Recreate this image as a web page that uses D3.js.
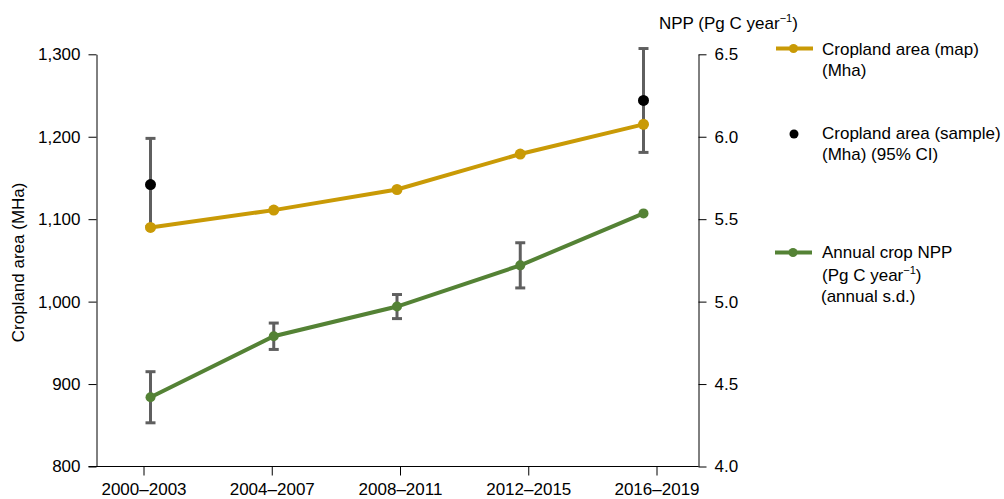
<!DOCTYPE html>
<html>
<head>
<meta charset="utf-8">
<script src="https://cdn.jsdelivr.net/npm/d3@7"></script>
<style>
  html, body { margin: 0; padding: 0; background: #fff; }
  svg { display: block; font-family: "Liberation Sans", Arial, Helvetica, sans-serif; }
  text { fill: #000; }
</style>
</head>
<body>
<svg id="chart" width="1004" height="499"></svg>
<script>
// ---- data ----
const periods = ["2000–2003", "2004–2007", "2008–2011", "2012–2015", "2016–2019"];
const mapArea = [1090, 1111, 1136, 1179, 1215];               // Mha
const samplePeriods = ["2000–2003", "2016–2019"];
const sampleArea = [1142, 1244];                              // Mha
const sampleLow = [1091, 1181];                               // 95% CI lower
const sampleHigh = [1198, 1307];                              // 95% CI upper
const npp = [4.42, 4.79, 4.97, 5.22, 5.535];                  // Pg C / year
const nppSD = [0.155, 0.08, 0.073, 0.137, null];              // annual s.d.
const leftTicks = [800, 900, 1000, 1100, 1200, 1300];
const rightTicks = [4.0, 4.5, 5.0, 5.5, 6.0, 6.5];

const gold = "#c99a06";
const green = "#548235";
const errGray = "#5f5f5f";

const svg = d3.select("#chart");
const fontSize = 17;

// ---- scales ----
const plotTop = 54.3, plotBottom = 466.5, leftX = 96.5, rightX = 698.5;
const xTick = d3.scalePoint().domain(periods).range([143.5, 656.5]);
const xData = d3.scalePoint().domain(periods).range([150.5, 643.5]);
const yL = d3.scaleLinear().domain([800, 1300]).range([plotBottom, plotTop]);
const yR = d3.scaleLinear().domain([4.0, 6.5]).range([plotBottom, plotTop]);

// ---- axes ----
const gL = svg.append("g").attr("transform", `translate(${leftX},0)`)
  .call(d3.axisLeft(yL).tickValues(leftTicks).tickSize(8).tickSizeOuter(0).tickPadding(8)
    .tickFormat(d3.format(",")));
const gR = svg.append("g").attr("transform", `translate(${rightX},0)`)
  .call(d3.axisRight(yR).tickValues(rightTicks).tickSize(8).tickSizeOuter(0).tickPadding(8)
    .tickFormat(d3.format(".1f")));
const gB = svg.append("g").attr("transform", `translate(0,${plotBottom})`)
  .call(d3.axisBottom(xTick).tickSize(9).tickSizeOuter(0).tickPadding(7));
gB.select(".domain").remove();
gB.append("line").attr("x1", 88.5).attr("x2", rightX).attr("y1", 0).attr("y2", 0)
  .attr("stroke", "#000").attr("stroke-width", 1);

[gL, gR, gB].forEach(g => {
  g.selectAll("text").attr("font-size", fontSize).attr("font-family", "Liberation Sans, Arial, sans-serif").attr("fill", "#000");
  g.selectAll("line, path").attr("stroke", "#000").attr("stroke-width", 1);
});
gB.selectAll(".tick text").attr("dy", "0.71em");

// left axis title
svg.append("text")
  .attr("transform", `translate(24,${(plotTop + plotBottom) / 2 + 2}) rotate(-90)`)
  .attr("text-anchor", "middle").attr("font-size", fontSize)
  .text("Cropland area (MHa)");

// right axis title
const rt = svg.append("text").attr("x", 659).attr("y", 29).attr("font-size", fontSize);
rt.append("tspan").text("NPP (Pg C year");
rt.append("tspan").attr("font-size", 11).attr("dy", -7).text("−1");
rt.append("tspan").attr("dy", 7).text(")");

// ---- error bars ----
const capW = 5;
function errBar(x, y1, y2) {
  const g = svg.append("g").attr("stroke", errGray).attr("stroke-width", 3).attr("fill", "none");
  g.append("line").attr("x1", x).attr("x2", x).attr("y1", y1).attr("y2", y2);
  g.append("line").attr("x1", x - capW).attr("x2", x + capW).attr("y1", y1).attr("y2", y1);
  g.append("line").attr("x1", x - capW).attr("x2", x + capW).attr("y1", y2).attr("y2", y2);
}
samplePeriods.forEach((p, i) => {
  errBar(xData(p), yL(sampleHigh[i]), yL(sampleLow[i]));
});
periods.forEach((p, i) => {
  if (nppSD[i] != null) errBar(xData(p), yR(npp[i] + nppSD[i]), yR(npp[i] - nppSD[i]));
});

// ---- lines ----
const lineMap = d3.line().x((d, i) => xData(periods[i])).y(d => yL(d));
const lineNpp = d3.line().x((d, i) => xData(periods[i])).y(d => yR(d));

svg.append("path").datum(mapArea).attr("d", lineMap)
  .attr("fill", "none").attr("stroke", gold).attr("stroke-width", 4);
svg.append("g").selectAll("circle").data(mapArea).join("circle")
  .attr("cx", (d, i) => xData(periods[i])).attr("cy", d => yL(d)).attr("r", 5.5).attr("fill", gold);

svg.append("path").datum(npp).attr("d", lineNpp)
  .attr("fill", "none").attr("stroke", green).attr("stroke-width", 4);
svg.append("g").selectAll("circle").data(npp).join("circle")
  .attr("cx", (d, i) => xData(periods[i])).attr("cy", d => yR(d)).attr("r", 5).attr("fill", green);

svg.append("g").selectAll("circle").data(sampleArea).join("circle")
  .attr("cx", (d, i) => xData(samplePeriods[i])).attr("cy", d => yL(d)).attr("r", 5.5).attr("fill", "#000");

// ---- legend ----
const lg = svg.append("g");
// map
lg.append("line").attr("x1", 776).attr("x2", 813).attr("y1", 48.5).attr("y2", 48.5)
  .attr("stroke", gold).attr("stroke-width", 4);
lg.append("circle").attr("cx", 793.5).attr("cy", 48.5).attr("r", 4.5).attr("fill", gold);
lg.append("text").attr("x", 822).attr("y", 55).attr("font-size", fontSize).text("Cropland area (map)");
lg.append("text").attr("x", 822).attr("y", 76).attr("font-size", fontSize).text("(Mha)");
// sample
lg.append("circle").attr("cx", 794).attr("cy", 134).attr("r", 4.5).attr("fill", "#000");
lg.append("text").attr("x", 822).attr("y", 139).attr("font-size", fontSize).text("Cropland area (sample)");
lg.append("text").attr("x", 822).attr("y", 160).attr("font-size", fontSize).text("(Mha) (95% CI)");
// npp
lg.append("line").attr("x1", 775).attr("x2", 812).attr("y1", 252.5).attr("y2", 252.5)
  .attr("stroke", green).attr("stroke-width", 4);
lg.append("circle").attr("cx", 793).attr("cy", 252.5).attr("r", 4.5).attr("fill", green);
lg.append("text").attr("x", 822).attr("y", 258).attr("font-size", fontSize).text("Annual crop NPP");
const l2 = lg.append("text").attr("x", 822).attr("y", 281).attr("font-size", fontSize);
l2.append("tspan").text("(Pg C year");
l2.append("tspan").attr("font-size", 11).attr("dy", -7).text("−1");
l2.append("tspan").attr("dy", 7).text(")");
lg.append("text").attr("x", 821).attr("y", 302).attr("font-size", fontSize).text("(annual s.d.)");
</script>
</body>
</html>
